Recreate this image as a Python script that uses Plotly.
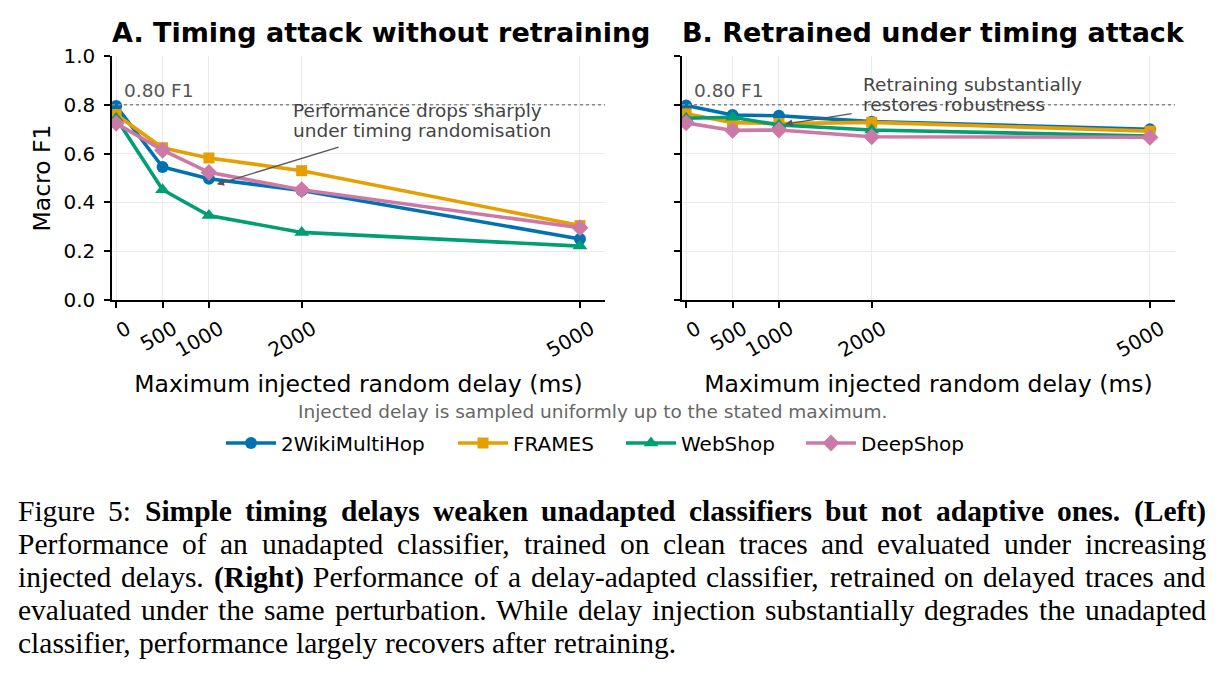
import plotly.graph_objects as go

# ---------------- data ----------------
delays = [0, 500, 1000, 2000, 5000]
series_names = ["2WikiMultiHop", "FRAMES", "WebShop", "DeepShop"]
colors = ["#0072B2", "#E69F00", "#009E73", "#CC79A7"]
symbols = ["circle", "square", "triangle-up", "diamond"]
marker_sizes = [12, 11, 13, 13]

# Panel A: unadapted classifier
f1_unadapted = {
    "2WikiMultiHop": [0.795, 0.545, 0.497, 0.449, 0.250],
    "FRAMES":        [0.760, 0.624, 0.582, 0.530, 0.305],
    "WebShop":       [0.745, 0.452, 0.346, 0.277, 0.221],
    "DeepShop":      [0.724, 0.614, 0.523, 0.452, 0.296],
}
# Panel B: retrained under timing attack
f1_retrained = {
    "2WikiMultiHop": [0.797, 0.758, 0.755, 0.731, 0.700],
    "FRAMES":        [0.763, 0.727, 0.723, 0.728, 0.692],
    "WebShop":       [0.745, 0.749, 0.717, 0.697, 0.672],
    "DeepShop":      [0.726, 0.695, 0.697, 0.669, 0.667],
}
y_ticks = [0.0, 0.2, 0.4, 0.6, 0.8, 1.0]
ref_f1 = 0.80

caption_lines = [
    [("Figure", 0), ("5:", 0), ("Simple", 1), ("timing", 1), ("delays", 1), ("weaken", 1),
     ("unadapted", 1), ("classifiers", 1), ("but", 1), ("not", 1), ("adaptive", 1),
     ("ones.", 1), ("(Left)", 1)],
    [(w, 0) for w in "Performance of an unadapted classifier, trained on clean traces and evaluated under increasing".split()],
    [("injected", 0), ("delays.", 0), ("(Right)", 1)] +
    [(w, 0) for w in "Performance of a delay-adapted classifier, retrained on delayed traces and".split()],
    [(w, 0) for w in "evaluated under the same perturbation. While delay injection substantially degrades the unadapted".split()],
    [(w, 0) for w in "classifier, performance largely recovers after retraining.".split()],
]

# ---------------- layout constants ----------------
W, H = 1221, 675
FONT = "DejaVu Sans"
SERIF = "Liberation Serif"


def px_x(px):
    return px / W


def px_y(px):
    return 1 - px / H


fig = go.Figure()

legend_ids = ["legend", "legend2", "legend3", "legend4"]
legend_px = [229, 461, 629, 809]

for i, name in enumerate(series_names):
    for panel, data in ((1, f1_unadapted), (2, f1_retrained)):
        fig.add_trace(go.Scatter(
            x=delays, y=data[name], name=name,
            mode="lines+markers",
            line=dict(color=colors[i], width=3.6),
            marker=dict(symbol=symbols[i], size=marker_sizes[i], color=colors[i]),
            xaxis="x" if panel == 1 else "x2",
            yaxis="y" if panel == 1 else "y2",
            showlegend=(panel == 1),
            legend=legend_ids[i],
        ))

axis_common = dict(
    showline=True, linecolor="black", linewidth=1.5,
    ticks="outside", ticklen=6, tickwidth=1.5, tickcolor="black",
    showgrid=True, gridcolor="#ebebeb", gridwidth=1, zeroline=False,
    tickfont=dict(family=FONT, size=20, color="black"), automargin=False,
)
xdom1 = [px_x(112), px_x(605)]
xdom2 = [px_x(682), px_x(1175)]
ydom = [px_y(300), px_y(56)]

xaxis_common = dict(axis_common, range=[-45, 5270], tickvals=delays,
                    ticktext=[str(d) for d in delays], tickangle=-30,
                    ticklabelshift=11, ticklabelstandoff=2,
                    title=dict(text="Maximum injected random delay (ms)",
                               font=dict(family=FONT, size=23.5, color="black"),
                               standoff=14))
yaxis_common = dict(axis_common, range=[0, 1], tickvals=y_ticks,
                    ticktext=[f"{v:.1f}" for v in y_ticks], ticklabelstandoff=5)

legend_common = dict(orientation="h", xanchor="left", y=px_y(443), yanchor="middle",
                     font=dict(family=FONT, size=20, color="black"),
                     itemwidth=50, bgcolor="rgba(0,0,0,0)", borderwidth=0)

fig.update_layout(
    width=W, height=H,
    margin=dict(l=0, r=0, t=0, b=0, autoexpand=False),
    paper_bgcolor="white", plot_bgcolor="white",
    font=dict(family=FONT, color="black"),
    xaxis=dict(xaxis_common, domain=xdom1, anchor="y"),
    xaxis2=dict(xaxis_common, domain=xdom2, anchor="y2"),
    yaxis=dict(yaxis_common, domain=ydom, anchor="x",
               title=dict(text="Macro F1", font=dict(family=FONT, size=23.5, color="black"),
                          standoff=6)),
    yaxis2=dict(yaxis_common, domain=ydom, anchor="x2", showticklabels=False),
    showlegend=True,
)
for lid, lpx in zip(legend_ids, legend_px):
    fig.update_layout({lid: dict(legend_common, x=px_x(lpx - 8))})

annotations = []
shapes = []
for xr, yr in (("x", "y"), ("x2", "y2")):
    shapes.append(dict(type="line", xref=f"{xr} domain", yref=yr, x0=0, x1=1, y0=ref_f1, y1=ref_f1,
                       line=dict(color="#888888", width=1.6, dash="dot"), layer="above"))
    annotations.append(dict(xref=xr, yref=yr, x=60, y=ref_f1, text="0.80 F1", showarrow=False,
                            xanchor="left", yanchor="bottom", yshift=2,
                            font=dict(family=FONT, size=18.5, color="#555555")))

# Panel titles (left aligned)
annotations.append(dict(xref="paper", yref="paper", x=px_x(110), y=px_y(33),
                        text="<b>A. Timing attack without retraining</b>", showarrow=False,
                        xanchor="left", yanchor="middle", font=dict(family=FONT, size=27, color="black")))
annotations.append(dict(xref="paper", yref="paper", x=px_x(680), y=px_y(33),
                        text="<b>B. Retrained under timing attack</b>", showarrow=False,
                        xanchor="left", yanchor="middle", font=dict(family=FONT, size=27, color="black")))

# Callouts
ann_font = dict(family=FONT, size=18.5, color="#444444")
for xr, yr, lines, ys in (("x", "y", ["Performance drops sharply", "under timing randomisation"], [0.775, 0.693]),
                          ("x2", "y2", ["Retraining substantially", "restores robustness"], [0.885, 0.803])):
    for t, yy in zip(lines, ys):
        annotations.append(dict(xref=xr, yref=yr, x=1890, y=yy, text=t, showarrow=False,
                                xanchor="left", yanchor="middle", font=ann_font))
annotations.append(dict(xref="x", yref="y", x=1085, y=0.474, ax=2414, ay=0.628, axref="x", ayref="y",
                        text="", showarrow=True, arrowhead=2, arrowsize=1.1, arrowwidth=1.3,
                        arrowcolor="#555555", standoff=0, startstandoff=0))
annotations.append(dict(xref="x2", yref="y2", x=1067, y=0.721, ax=1800, ay=0.765, axref="x2", ayref="y2",
                        text="", showarrow=True, arrowhead=2, arrowsize=1.1, arrowwidth=1.3,
                        arrowcolor="#555555", standoff=0, startstandoff=0))

# Note
annotations.append(dict(xref="paper", yref="paper", x=px_x(592), y=px_y(411),
                        text="Injected delay is sampled uniformly up to the stated maximum.",
                        showarrow=False, xanchor="center", yanchor="middle",
                        font=dict(family=FONT, size=18.5, color="#666666")))

# ---------------- caption (justified, Times metrics) ----------------
TR = dict(zip("abcdefghijklmnopqrstuvwxyz",
              [444, 500, 444, 500, 444, 333, 500, 500, 278, 278, 500, 278, 778, 500, 500, 500, 500, 333, 389,
               278, 500, 500, 722, 500, 500, 444]))
TR.update(dict(zip("ABCDEFGHIJKLMNOPQRSTUVWXYZ",
                   [722, 667, 667, 722, 611, 556, 722, 722, 333, 389, 722, 611, 889, 722, 722, 556, 722, 667,
                    556, 611, 722, 722, 944, 722, 722, 611])))
TR.update({".": 250, ",": 250, ":": 278, "-": 333, "(": 333, ")": 333, "5": 500})
TB = dict(zip("abcdefghijklmnopqrstuvwxyz",
              [500, 556, 444, 556, 444, 333, 500, 556, 278, 333, 556, 278, 833, 556, 500, 556, 556, 444, 389,
               333, 556, 500, 722, 500, 500, 444]))
TB.update({"L": 667, "R": 722, "S": 556, ".": 250, "(": 333, ")": 333})

CAP_SIZE = 29.5
CAP_LEFT, CAP_RIGHT = 17, 1205
SPACE = 0.25 * CAP_SIZE
cap_y = [511, 544, 577, 610, 643]


def word_w(word, bold):
    tbl = TB if bold else TR
    return sum(tbl.get(c, 500) for c in word) / 1000 * CAP_SIZE


for li, (words, yc) in enumerate(zip(caption_lines, cap_y)):
    widths = [word_w(w, b) for w, b in words]
    if li < len(caption_lines) - 1:
        gap = (CAP_RIGHT - CAP_LEFT - sum(widths)) / (len(words) - 1)
    else:
        gap = SPACE
    x = CAP_LEFT
    for (w, b), ww in zip(words, widths):
        annotations.append(dict(xref="paper", yref="paper", x=px_x(x), y=px_y(yc),
                                text=f"<b>{w}</b>" if b else w, showarrow=False,
                                xanchor="left", yanchor="middle", borderpad=0,
                                font=dict(family=SERIF, size=CAP_SIZE, color="black")))
        x += ww + gap

fig.update_layout(annotations=annotations, shapes=shapes)

fig.write_html("out.html")
